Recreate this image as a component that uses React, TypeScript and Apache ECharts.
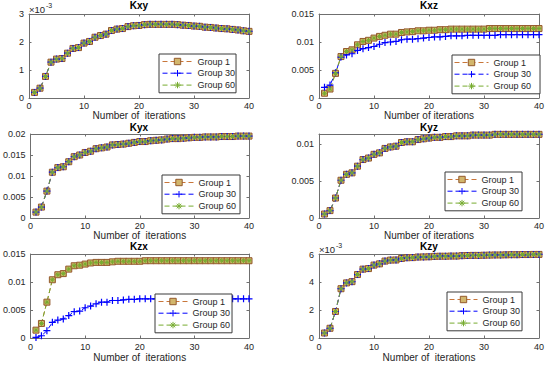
import React, { useEffect, useRef } from "react";
import * as echarts from "echarts";

// ---------- data ----------
const iterations = [
  1, 2, 3, 4, 5, 6, 7, 8, 9, 10, 11, 12, 13, 14, 15, 16, 17, 18, 19, 20,
  21, 22, 23, 24, 25, 26, 27, 28, 29, 30, 31, 32, 33, 34, 35, 36, 37, 38, 39, 40,
];

const groupNames = ["Group 1", "Group 30", "Group 60"];

const titles = ["Kxy", "Kxz", "Kyx", "Kyz", "Kzx", "Kzy"];
const xAxisNames = [
  "Number of  iterations",
  "Number of iterations",
  "Number of  iterations",
  "Number of iterations",
  "Number of  iterations",
  "Number of  iterations",
];

const kxyGroup1 = [
  0.0002, 0.00035, 0.00077, 0.00128, 0.00139, 0.00141, 0.0016, 0.00177, 0.0018, 0.00196,
  0.00202, 0.00217, 0.00223, 0.00228, 0.00241, 0.00246, 0.00248, 0.00255, 0.00258, 0.00259,
  0.00262, 0.00263, 0.00263, 0.00263, 0.00263, 0.00263, 0.00262, 0.0026, 0.00259, 0.00257,
  0.00256, 0.00253, 0.00252, 0.0025, 0.00248, 0.00247, 0.00245, 0.00243, 0.0024, 0.00238,
];
const kxyGroup30 = kxyGroup1;
const kxyGroup60 = kxyGroup1;

const kxzGroup1 = [
  0.00085, 0.0016, 0.0044, 0.0074, 0.0083, 0.0086, 0.0095, 0.0101, 0.0103, 0.0107,
  0.011, 0.0112, 0.0114, 0.0114, 0.0117, 0.0118, 0.01185, 0.012, 0.012, 0.0121,
  0.0121, 0.0122, 0.0122, 0.0123, 0.0123, 0.0123, 0.0123, 0.0123, 0.0123, 0.0123,
  0.0124, 0.0124, 0.0124, 0.0124, 0.0124, 0.0124, 0.0124, 0.0124, 0.0124, 0.0124,
];
const kxzGroup30 = [
  0.0019, 0.0023, 0.0045, 0.0073, 0.0077, 0.0079, 0.0085, 0.0088, 0.009, 0.0092,
  0.0096, 0.0099, 0.01, 0.0101, 0.0104, 0.0105, 0.0105, 0.0106, 0.0107, 0.0108,
  0.0109, 0.0109, 0.011, 0.0111, 0.0111, 0.0111, 0.0112, 0.0112, 0.0112, 0.0112,
  0.0112, 0.0112, 0.0113, 0.0113, 0.0113, 0.0113, 0.0113, 0.0113, 0.0113, 0.0113,
];
const kxzGroup60 = kxzGroup1;

const kyxGroup1 = [
  0.0014, 0.0026, 0.0064, 0.0109, 0.012, 0.0122, 0.0134, 0.0146, 0.015, 0.0156,
  0.0159, 0.0165, 0.0167, 0.0169, 0.0174, 0.0175, 0.0176, 0.0178, 0.018, 0.0182,
  0.0182, 0.0184, 0.0185, 0.0186, 0.0188, 0.0189, 0.0189, 0.019, 0.0191, 0.0192,
  0.0192, 0.0193, 0.0193, 0.0193, 0.0194, 0.0194, 0.0194, 0.0195, 0.0195, 0.0195,
];
const kyxGroup30 = kyxGroup1;
const kyxGroup60 = kyxGroup1;

const kyzGroup1 = [
  0.00054, 0.001, 0.0027, 0.0051, 0.0059, 0.0061, 0.007, 0.0079, 0.0081, 0.0086,
  0.0088, 0.0094, 0.0096, 0.0097, 0.0102, 0.0103, 0.0103, 0.0106, 0.0107, 0.0108,
  0.0109, 0.0109, 0.011, 0.011, 0.0111, 0.0111, 0.0111, 0.0112, 0.0112, 0.0112,
  0.0112, 0.0113, 0.0113, 0.0113, 0.0113, 0.0113, 0.0113, 0.0113, 0.0113, 0.0113,
];
const kyzGroup30 = kyzGroup1;
const kyzGroup60 = kyzGroup1;

const kzxGroup1 = [
  0.0014, 0.0026, 0.0064, 0.0104, 0.0113, 0.0115, 0.0123, 0.0129, 0.013, 0.0132,
  0.0134, 0.0135, 0.0135, 0.0135, 0.0136, 0.0137, 0.0137, 0.0137, 0.0137, 0.0137,
  0.0138, 0.0138, 0.0138, 0.0138, 0.0138, 0.0138, 0.0138, 0.0138, 0.0138, 0.0138,
  0.0138, 0.0138, 0.0138, 0.0138, 0.0138, 0.0138, 0.0138, 0.0138, 0.0138, 0.0138,
];
const kzxGroup30 = [
  0.0001, 0.0004, 0.0013, 0.0028, 0.0032, 0.0034, 0.004, 0.0047, 0.0048, 0.0054,
  0.0057, 0.0061, 0.0064, 0.0064, 0.0067, 0.0067, 0.0068, 0.0069, 0.0069, 0.007,
  0.007, 0.007, 0.007, 0.007, 0.007, 0.007, 0.007, 0.007, 0.007, 0.007,
  0.007, 0.007, 0.007, 0.007, 0.007, 0.007, 0.007, 0.007, 0.007, 0.007,
];
const kzxGroup60 = kzxGroup1;

const kzyGroup1 = [
  0.00036, 0.0007, 0.00191, 0.00355, 0.00397, 0.00406, 0.00457, 0.00496, 0.005, 0.00525,
  0.00534, 0.00554, 0.00561, 0.00562, 0.00573, 0.00578, 0.00579, 0.00583, 0.00584, 0.00585,
  0.00588, 0.00589, 0.00589, 0.0059, 0.0059, 0.00593, 0.00594, 0.00595, 0.00595, 0.00596,
  0.00597, 0.00598, 0.00598, 0.00599, 0.006, 0.006, 0.00601, 0.00601, 0.00602, 0.00602,
];
const kzyGroup30 = kzyGroup1;
const kzyGroup60 = kzyGroup1;

const panelData = [
  [kxyGroup1, kxyGroup30, kxyGroup60],
  [kxzGroup1, kxzGroup30, kxzGroup60],
  [kyxGroup1, kyxGroup30, kyxGroup60],
  [kyzGroup1, kyzGroup30, kyzGroup60],
  [kzxGroup1, kzxGroup30, kzxGroup60],
  [kzyGroup1, kzyGroup30, kzyGroup60],
];

// y axis ranges and label scale factor
const yMax = [0.003, 0.015, 0.02, 0.01135, 0.015, 0.00605];
const yInterval = [0.001, 0.005, 0.005, 0.005, 0.005, 0.002];
const yLabelScale = [1000, 1, 1, 1, 1, 1000];

// ---------- styles / layout ----------
const FONT = '"Liberation Sans", Arial, Helvetica, sans-serif';
const AXIS_COLOR = "#6f6f6f";
const TEXT_COLOR = "#262626";
const GRID_W = 220;
const GRID_H = 84;

const layouts = [
  { left: 29, top: 14, nameGap: 10, labelMargin: 3, titleTop: 0, legend: { left: 159, top: 54, itemWidth: 30, padding: [2, 1, 2, 3] } },
  { left: 319, top: 14, nameGap: 10, labelMargin: 3, titleTop: 0, legend: { left: 452, top: 55, itemWidth: 34, padding: [2, 9, 2, 2] } },
  { left: 29, top: 134, nameGap: 10, labelMargin: 3, titleTop: 122, legend: { left: 162, top: 175, itemWidth: 29, padding: [2, 4, 2, 2] } },
  { left: 319, top: 134, nameGap: 10, labelMargin: 3, titleTop: 122, legend: { left: 445, top: 172, itemWidth: 29, padding: [2, 3, 2, 2] } },
  { left: 29, top: 254, nameGap: 14, labelMargin: 4.5, titleTop: 241.5, legend: { left: 155, top: 294, itemWidth: 29, padding: [2, 2, 2, 3] } },
  { left: 319, top: 254, nameGap: 14, labelMargin: 4.5, titleTop: 241.5, legend: { left: 447, top: 292, itemWidth: 28, padding: [2, 2, 2, 2] } },
];

const PLUS = "path://M5 0L5 10M0 5L10 5";
const STAR = "path://M5 0L5 10M0 5L10 5M1.5 1.5L8.5 8.5M1.5 8.5L8.5 1.5";

const groupStyles = [
  {
    symbol: "rect",
    symbolSize: 6,
    color: "#c8763a",
    itemStyle: { color: "#d2b66c", borderColor: "#94592c", borderWidth: 1 },
    lineStyle: { color: "#c8763a", width: 1, type: [5, 3] },
  },
  {
    symbol: PLUS,
    symbolSize: 7,
    color: "#0000ff",
    itemStyle: { color: "none", borderColor: "#0000ff", borderWidth: 1.2 },
    lineStyle: { color: "#0000ff", width: 1, type: [5, 3] },
  },
  {
    symbol: STAR,
    symbolSize: 5,
    color: "#77ac30",
    itemStyle: { color: "none", borderColor: "#77ac30", borderWidth: 1 },
    lineStyle: { color: "#77ac30", width: 1, type: [5, 3] },
  },
];

function buildOption() {
  const grid: any[] = [];
  const xAxis: any[] = [];
  const yAxis: any[] = [];
  const series: any[] = [];
  const title: any[] = [];
  const legend: any[] = [];

  titles.forEach((t, i) => {
    const L = layouts[i];
    grid.push({ left: L.left, top: L.top, width: GRID_W, height: GRID_H, containLabel: false });

    const axisLine = { show: true, onZero: false, lineStyle: { color: AXIS_COLOR, width: 1 } };
    const axisTick = { show: true, inside: true, length: 2.5, lineStyle: { color: AXIS_COLOR } };

    xAxis.push({
      type: "value",
      gridIndex: i,
      min: 0,
      max: 40,
      interval: 10,
      position: "bottom",
      name: xAxisNames[i],
      nameLocation: "middle",
      nameGap: L.nameGap,
      nameTextStyle: { fontFamily: FONT, fontSize: 10, color: TEXT_COLOR },
      axisLine,
      axisTick,
      splitLine: { show: false },
      axisLabel: { margin: L.labelMargin, fontFamily: FONT, fontSize: 9, color: TEXT_COLOR },
    });
    xAxis.push({
      type: "value",
      gridIndex: i,
      min: 0,
      max: 40,
      interval: 10,
      position: "top",
      axisLine,
      axisTick,
      splitLine: { show: false },
      axisLabel: { show: false },
    });

    const scale = yLabelScale[i];
    const ratio = yMax[i] / yInterval[i];
    yAxis.push({
      type: "value",
      gridIndex: i,
      min: 0,
      max: yMax[i],
      interval: yInterval[i],
      position: "left",
      axisLine,
      axisTick,
      splitLine: { show: false },
      axisLabel: {
        margin: 5,
        fontFamily: FONT,
        fontSize: 9,
        color: TEXT_COLOR,
        showMaxLabel: Math.abs(ratio - Math.round(ratio)) > 1e-6 ? false : null,
        formatter: (v: number) => String(parseFloat((v * scale).toFixed(6))),
      },
    });
    yAxis.push({
      type: "value",
      gridIndex: i,
      min: 0,
      max: yMax[i],
      interval: yInterval[i],
      position: "right",
      axisLine,
      axisTick,
      splitLine: { show: false },
      axisLabel: { show: false },
    });

    panelData[i].forEach((vals, g) => {
      const st = groupStyles[g];
      series.push({
        type: "line",
        name: groupNames[g],
        xAxisIndex: i * 2,
        yAxisIndex: i * 2,
        data: iterations.map((x, k) => [x, vals[k]]),
        symbol: st.symbol,
        symbolSize: st.symbolSize,
        color: st.color,
        itemStyle: st.itemStyle,
        lineStyle: st.lineStyle,
        showSymbol: true,
        silent: true,
        emphasis: { disabled: true },
      });
    });

    title.push({
      text: t,
      left: L.left + GRID_W / 2,
      top: L.titleTop,
      textAlign: "center",
      padding: 0,
      textStyle: { fontFamily: FONT, fontSize: 10, fontWeight: "bold", color: "#000" },
    });

    legend.push({
      orient: "vertical",
      left: L.legend.left,
      top: L.legend.top,
      padding: L.legend.padding,
      itemWidth: L.legend.itemWidth,
      itemHeight: 8,
      itemGap: 0.5,
      data: groupNames,
      backgroundColor: "#ffffff",
      borderColor: "#3a3a3a",
      borderWidth: 1,
      borderRadius: 0,
      selectedMode: false,
      lineStyle: { width: 1 },
      itemStyle: { borderWidth: 1 },
      textStyle: { fontFamily: FONT, fontSize: 9, color: TEXT_COLOR, lineHeight: 11 },
    });
  });

  const expo = (x: number, y: number) => [
    {
      type: "text",
      x,
      y,
      style: { text: "×10", fontFamily: FONT, fontSize: 9.5, fill: TEXT_COLOR, verticalAlign: "middle", align: "left" },
    },
    {
      type: "text",
      x: x + 17,
      y: y - 4,
      style: { text: "-3", fontFamily: FONT, fontSize: 7, fill: TEXT_COLOR, verticalAlign: "middle", align: "left" },
    },
  ];

  return {
    animation: false,
    backgroundColor: "#ffffff",
    grid,
    xAxis,
    yAxis,
    series,
    title,
    legend,
    graphic: [...expo(layouts[0].left, 9.5), ...expo(layouts[5].left, 249)],
  };
}

export default function App() {
  const ref = useRef<HTMLDivElement>(null);
  useEffect(() => {
    if (!ref.current) return;
    const chart = echarts.init(ref.current, undefined, { renderer: "svg" });
    chart.setOption(buildOption() as any);
    return () => chart.dispose();
  }, []);
  return (
    <div
      ref={ref}
      style={{ position: "absolute", left: 0, top: 0, width: 550, height: 365, background: "#fff" }}
    />
  );
}
